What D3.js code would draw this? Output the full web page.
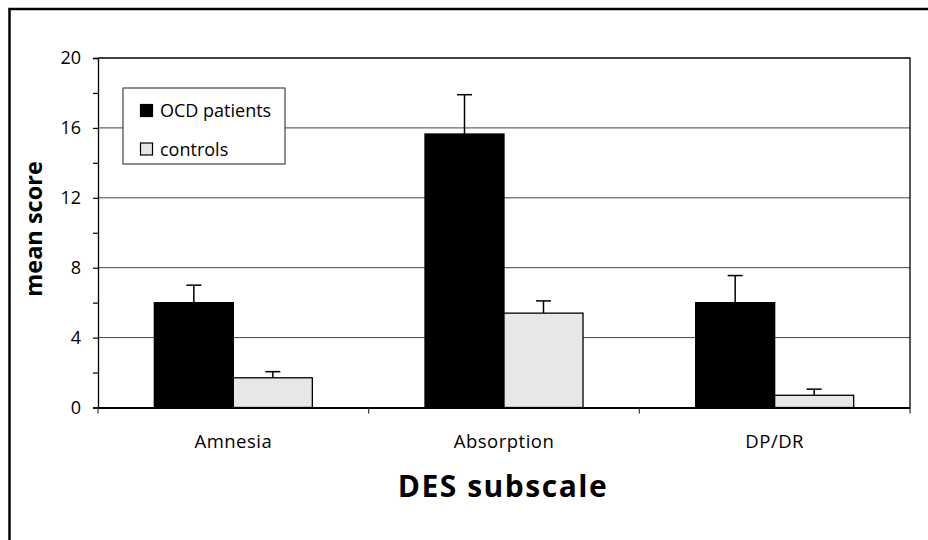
<!DOCTYPE html>
<html><head><meta charset="utf-8">
<script src="https://cdn.jsdelivr.net/npm/d3@7"></script>
<style>body{margin:0;background:#fff}svg{display:block}text{font-family:"Open Sans","Noto Sans",sans-serif;fill:#000}</style>
</head><body>
<svg id="c" width="928" height="540"></svg>
<script>
const categories = ["Amnesia", "Absorption", "DP/DR"];
const seriesNames = ["OCD patients", "controls"];
const ocdMeans = [6.0, 15.65, 6.0];
const ocdErrors = [7.0, 17.9, 7.55];
const controlMeans = [1.7, 5.4, 0.7];
const controlErrors = [2.05, 6.1, 1.05];
const yTickLabels = [0, 4, 8, 12, 16, 20];
const yMinorTicks = [0, 2, 4, 6, 8, 10, 12, 14, 16, 18, 20];
const seriesColors = ["#000000", "#e6e7e8"];

const svg = d3.select("#c");
const L = 98, R = 910, T = 58, B = 407.5;

// outer frame
svg.append("path").attr("d", "M9.5,540 V9 H928").attr("fill", "none").attr("stroke", "#000").attr("stroke-width", 2.5);

const y = d3.scaleLinear().domain([0, 20]).range([B, T]);
const x = d3.scaleBand().domain(categories).range([L, R]).padding(0);
const xs = d3.scaleBand().domain(seriesNames).range([0, x.bandwidth()]).paddingInner(0).paddingOuter(0.713);

// gridlines
svg.append("g").selectAll("line").data(yTickLabels.filter(v => v > 0 && v < 20)).join("line")
  .attr("x1", L).attr("x2", R).attr("y1", d => y(d)).attr("y2", d => y(d))
  .attr("stroke", "#444").attr("stroke-width", 1);

// plot border top/right
svg.append("path").attr("d", `M${L},${T} H${R} V${B}`).attr("fill", "none").attr("stroke", "#000").attr("stroke-width", 1.3);

// bars
const rows = categories.map((c, i) => [
  {cat: c, s: seriesNames[0], v: ocdMeans[i], e: ocdErrors[i], col: seriesColors[0]},
  {cat: c, s: seriesNames[1], v: controlMeans[i], e: controlErrors[i], col: seriesColors[1]}
]).flat();

const bars = svg.append("g");
bars.selectAll("rect").data(rows).join("rect")
  .attr("x", d => x(d.cat) + xs(d.s))
  .attr("y", d => y(d.v))
  .attr("width", xs.bandwidth())
  .attr("height", d => y(0) - y(d.v))
  .attr("fill", d => d.col)
  .attr("stroke", "#000").attr("stroke-width", 1.3);

// error bars
const eb = svg.append("g").attr("stroke", "#000").attr("stroke-width", 1.5);
eb.selectAll("line.v").data(rows).join("line").attr("class", "v")
  .attr("x1", d => x(d.cat) + xs(d.s) + xs.bandwidth() / 2)
  .attr("x2", d => x(d.cat) + xs(d.s) + xs.bandwidth() / 2)
  .attr("y1", d => y(d.v)).attr("y2", d => y(d.e));
eb.selectAll("line.c").data(rows).join("line").attr("class", "c")
  .attr("x1", d => x(d.cat) + xs(d.s) + xs.bandwidth() / 2 - 7.5)
  .attr("x2", d => x(d.cat) + xs(d.s) + xs.bandwidth() / 2 + 7.5)
  .attr("y1", d => y(d.e)).attr("y2", d => y(d.e));

// y axis
const yAxis = svg.append("g").attr("transform", `translate(${L},0)`)
  .call(d3.axisLeft(y).tickValues(yMinorTicks).tickSize(5).tickFormat(d => yTickLabels.includes(d) ? d : ""));
yAxis.select(".domain").attr("stroke", "#000").attr("stroke-width", 1.3);
yAxis.selectAll(".tick line").attr("stroke", "#000").attr("stroke-width", 1.2);
yAxis.selectAll(".tick text").attr("font-size", 18).attr("x", -17).attr("font-family", '"Open Sans",sans-serif');

// x axis
const xAxis = svg.append("g").attr("transform", `translate(0,${B})`)
  .call(d3.axisBottom(x).tickSize(0).tickSizeOuter(0));
xAxis.select(".domain").attr("stroke", "#000").attr("stroke-width", 1.8);
xAxis.selectAll(".tick text").attr("font-size", 18.5).attr("y", 40).attr("dy", 0)
  .attr("letter-spacing", "0.5px").attr("font-family", '"Open Sans",sans-serif');
const bounds = categories.map(c => x(c)).concat([R]);
svg.append("g").selectAll("line").data(bounds).join("line")
  .attr("x1", d => d).attr("x2", d => d).attr("y1", B).attr("y2", B + 6)
  .attr("stroke", "#333").attr("stroke-width", 1.2);

// axis titles
svg.append("text").attr("transform", "translate(42,229) rotate(-90)")
  .attr("text-anchor", "middle").attr("font-size", 23.5).attr("font-weight", "bold").text("mean score");
svg.append("text").attr("x", 503).attr("y", 497).attr("text-anchor", "middle")
  .attr("font-size", 30).attr("font-weight", "bold").attr("letter-spacing", "1.5px").text("DES subscale");

// legend
const lg = svg.append("g");
lg.append("rect").attr("x", 123).attr("y", 88).attr("width", 162).attr("height", 76)
  .attr("fill", "#fff").attr("stroke", "#444").attr("stroke-width", 1.2);
const li = lg.selectAll("g.i").data(seriesNames).join("g").attr("class", "i")
  .attr("transform", (d, i) => `translate(0,${i * 38.5})`);
li.append("rect").attr("x", 140.5).attr("y", 104.5).attr("width", 12).attr("height", 12)
  .attr("fill", (d, i) => seriesColors[i]).attr("stroke", "#000").attr("stroke-width", 1.2);
li.append("text").attr("x", 160).attr("y", 117).attr("font-size", 18).text(d => d);
</script>
</body></html>
